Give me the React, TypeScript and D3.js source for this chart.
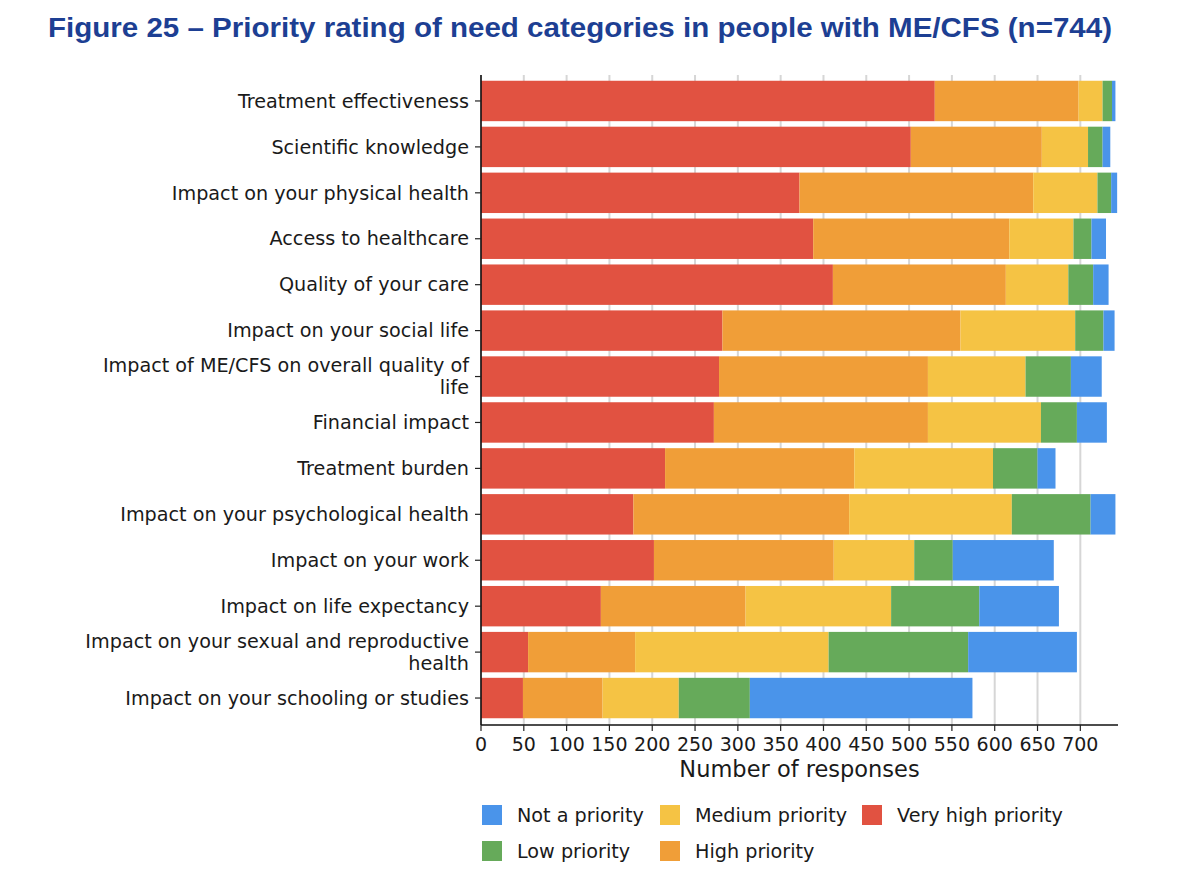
import React from "react";
import * as d3 from "d3";

const categories = [
  "Treatment effectiveness",
  "Scientific knowledge",
  "Impact on your physical health",
  "Access to healthcare",
  "Quality of your care",
  "Impact on your social life",
  "Impact of ME/CFS on overall quality of\nlife",
  "Financial impact",
  "Treatment burden",
  "Impact on your psychological health",
  "Impact on your work",
  "Impact on life expectancy",
  "Impact on your sexual and reproductive\nhealth",
  "Impact on your schooling or studies",
];

const veryHigh = [530, 502, 372, 388, 411, 282, 278, 272, 215, 178, 202, 140, 55, 49];
const high = [168, 153, 273, 229, 202, 278, 244, 250, 221, 252, 210, 169, 125, 93];
const medium = [28, 54, 75, 75, 73, 134, 114, 132, 162, 190, 94, 170, 226, 89];
const low = [11, 17, 16, 21, 29, 33, 53, 42, 52, 92, 45, 103, 163, 83];
const notPriority = [4, 9, 7, 17, 18, 13, 36, 35, 21, 29, 118, 93, 127, 260];

const xTicks = [0, 50, 100, 150, 200, 250, 300, 350, 400, 450, 500, 550, 600, 650, 700];

const seriesNames = ["Very high priority", "High priority", "Medium priority", "Low priority", "Not a priority"];
const seriesColors = ["#e15241", "#f09e38", "#f5c344", "#66aa5a", "#4a94ea"];
const seriesValues = [veryHigh, high, medium, low, notPriority];

const legendOrder = [
  { name: "Not a priority", color: "#4a94ea", col: 0, row: 0 },
  { name: "Medium priority", color: "#f5c344", col: 1, row: 0 },
  { name: "Very high priority", color: "#e15241", col: 2, row: 0 },
  { name: "Low priority", color: "#66aa5a", col: 0, row: 1 },
  { name: "High priority", color: "#f09e38", col: 1, row: 1 },
];

export default function App() {
  const W = 1200;
  const H = 878;
  const left = 481;
  const right = 1118;
  const top = 75;
  const bottom = 725;

  const x = d3.scaleLinear().domain([0, 744]).range([left, right]);
  const y = d3
    .scaleBand<number>()
    .domain(d3.range(categories.length))
    .range([78, 721])
    .paddingInner(0.12)
    .paddingOuter(0.06);

  const rows = categories.map((_, i) => seriesValues.map((s) => s[i]));
  const stack = d3
    .stack<number[], number>()
    .keys(d3.range(seriesNames.length))
    .value((d, k) => d[k]);
  const stacked = stack(rows);

  const font = "'DejaVu Sans', sans-serif";
  const legendX = [482, 660, 862];
  const legendY = [815, 851];

  return (
    <svg
      width={W}
      height={H}
      style={{ position: "absolute", left: 0, top: 0, background: "#fff" }}
      fontFamily={font}
    >
      <rect x={0} y={0} width={W} height={H} fill="#fff" />
      <text
        x={48}
        y={37}
        fontFamily="'Liberation Sans', Arial, sans-serif"
        fontWeight="bold"
        fontSize={27}
        fill="#1d3f93"
        textLength={1064}
        lengthAdjust="spacingAndGlyphs"
      >
        Figure 25 – Priority rating of need categories in people with ME/CFS (n=744)
      </text>

      {/* gridlines */}
      {xTicks.map((t) => (
        <line key={"g" + t} x1={x(t)} x2={x(t)} y1={top} y2={bottom} stroke="#d6d6d6" strokeWidth={2} />
      ))}

      {/* bars */}
      {stacked.map((layer, k) => (
        <g key={"s" + k} fill={seriesColors[k]}>
          {layer.map((d, i) => (
            <rect
              key={i}
              x={x(d[0])}
              y={y(i)!}
              width={Math.max(0, x(d[1]) - x(d[0]))}
              height={y.bandwidth()}
            />
          ))}
        </g>
      ))}

      {/* axes */}
      <line x1={left} x2={left} y1={top} y2={bottom} stroke="#111" strokeWidth={1.6} />
      <line x1={left} x2={right} y1={bottom} y2={bottom} stroke="#111" strokeWidth={1.6} />

      {xTicks.map((t) => (
        <g key={"xt" + t}>
          <line x1={x(t)} x2={x(t)} y1={bottom} y2={bottom + 6} stroke="#222" strokeWidth={1.2} />
          <text x={x(t)} y={bottom + 26} textAnchor="middle" fontSize={19} fill="#1a1a1a">
            {t}
          </text>
        </g>
      ))}
      <text x={(left + right) / 2} y={777} textAnchor="middle" fontSize={22.5} fill="#1a1a1a">
        Number of responses
      </text>

      {categories.map((c, i) => {
        const cy = y(i)! + y.bandwidth() / 2;
        const lines = c.split("\n");
        const lh = 22;
        const startY = cy - ((lines.length - 1) * lh) / 2;
        return (
          <g key={"yl" + i}>
            <line x1={left - 6} x2={left} y1={cy} y2={cy} stroke="#222" strokeWidth={1.2} />
            {lines.map((ln, j) => (
              <text
                key={j}
                x={469}
                y={startY + j * lh}
                dy="0.35em"
                textAnchor="end"
                fontSize={19.2}
                fill="#1a1a1a"
              >
                {ln}
              </text>
            ))}
          </g>
        );
      })}

      {/* legend */}
      {legendOrder.map((l) => (
        <g key={l.name}>
          <rect x={legendX[l.col]} y={legendY[l.row] - 10} width={20} height={20} fill={l.color} />
          <text x={legendX[l.col] + 35} y={legendY[l.row]} dy="0.35em" fontSize={19.2} fill="#1a1a1a">
            {l.name}
          </text>
        </g>
      ))}
    </svg>
  );
}
